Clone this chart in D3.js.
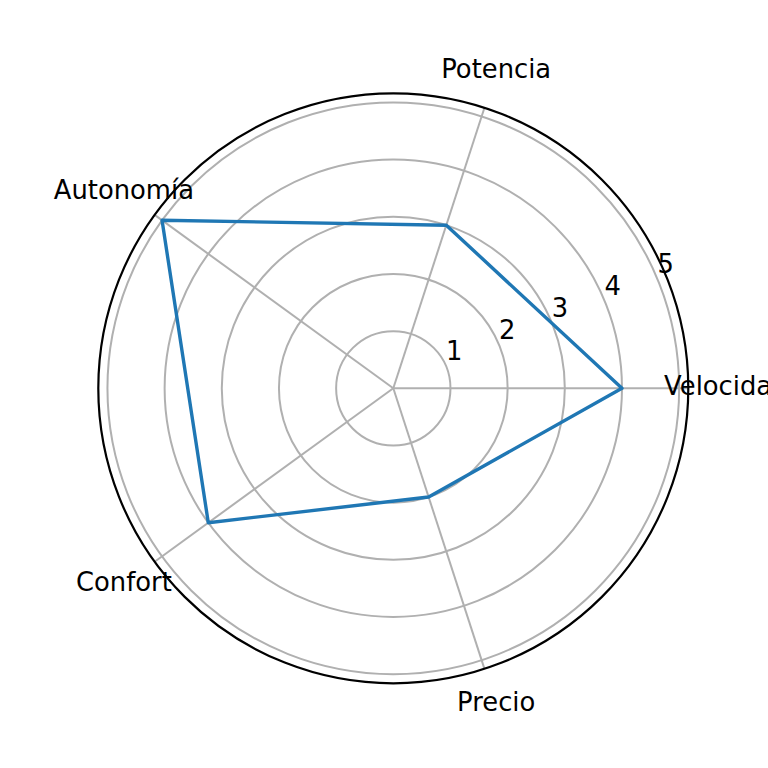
<!DOCTYPE html>
<html><head><meta charset="utf-8">
<script src="https://cdn.jsdelivr.net/npm/d3@7"></script>
<style>html,body{margin:0;padding:0;background:#fff;overflow:hidden}</style>
</head><body>
<svg id="c" width="768" height="768"></svg>
<script>
const categories = ["Velocidad", "Potencia", "Autonomía", "Confort", "Precio"];
const values = [4, 3, 5, 4, 2];
const rTicks = [1, 2, 3, 4, 5];
const rMax = 5.16;

const svg = d3.select("#c");
const cx = 393.3, cy = 388.3;
const outerR = 295;
const r = d3.scaleLinear().domain([0, rMax]).range([0, outerR]);
const ang = d3.scaleLinear().domain([0, categories.length]).range([0, 2 * Math.PI]);
const font = "DejaVu Sans, sans-serif";
const fs = 25.8;

const g = svg.append("g").attr("transform", `translate(${cx},${cy})`);
const px = (a, rad) => rad * Math.cos(a);
const py = (a, rad) => -rad * Math.sin(a);

// grid circles
g.selectAll("circle.grid").data(rTicks).enter().append("circle")
  .attr("r", d => r(d)).attr("fill", "none")
  .attr("stroke", "#b0b0b0").attr("stroke-width", 2);

// spokes
g.selectAll("line.spoke").data(categories).enter().append("line")
  .attr("x1", 0).attr("y1", 0)
  .attr("x2", (d, i) => px(ang(i), outerR)).attr("y2", (d, i) => py(ang(i), outerR))
  .attr("stroke", "#b0b0b0").attr("stroke-width", 2);

// data polygon
const pts = values.map((v, i) => [px(ang(i), r(v)), py(ang(i), r(v))]);
g.append("path")
  .attr("d", d3.line().curve(d3.curveLinearClosed)(pts))
  .attr("fill", "none").attr("stroke", "#1f77b4").attr("stroke-width", 3.4)
  .attr("stroke-linejoin", "round");

// outer spine
g.append("circle").attr("r", outerR).attr("fill", "none")
  .attr("stroke", "#000").attr("stroke-width", 2.2);

// radial tick labels
const la = 22.5 * Math.PI / 180;
g.selectAll("text.rt").data(rTicks).enter().append("text")
  .attr("x", d => px(la, r(d)))
  .attr("y", d => py(la, r(d)) - 6)
  .attr("text-anchor", "start")
  .attr("font-family", font).attr("font-size", fs).attr("fill", "#000")
  .text(d => d);

// category labels
const labR = 333;
g.selectAll("text.cat").data(categories).enter().append("text")
  .attr("x", (d, i) => px(ang(i), labR))
  .attr("y", (d, i) => py(ang(i), labR) + 6.5)
  .attr("text-anchor", "middle")
  .attr("font-family", font).attr("font-size", fs).attr("fill", "#000")
  .text(d => d);
</script>
</body></html>
